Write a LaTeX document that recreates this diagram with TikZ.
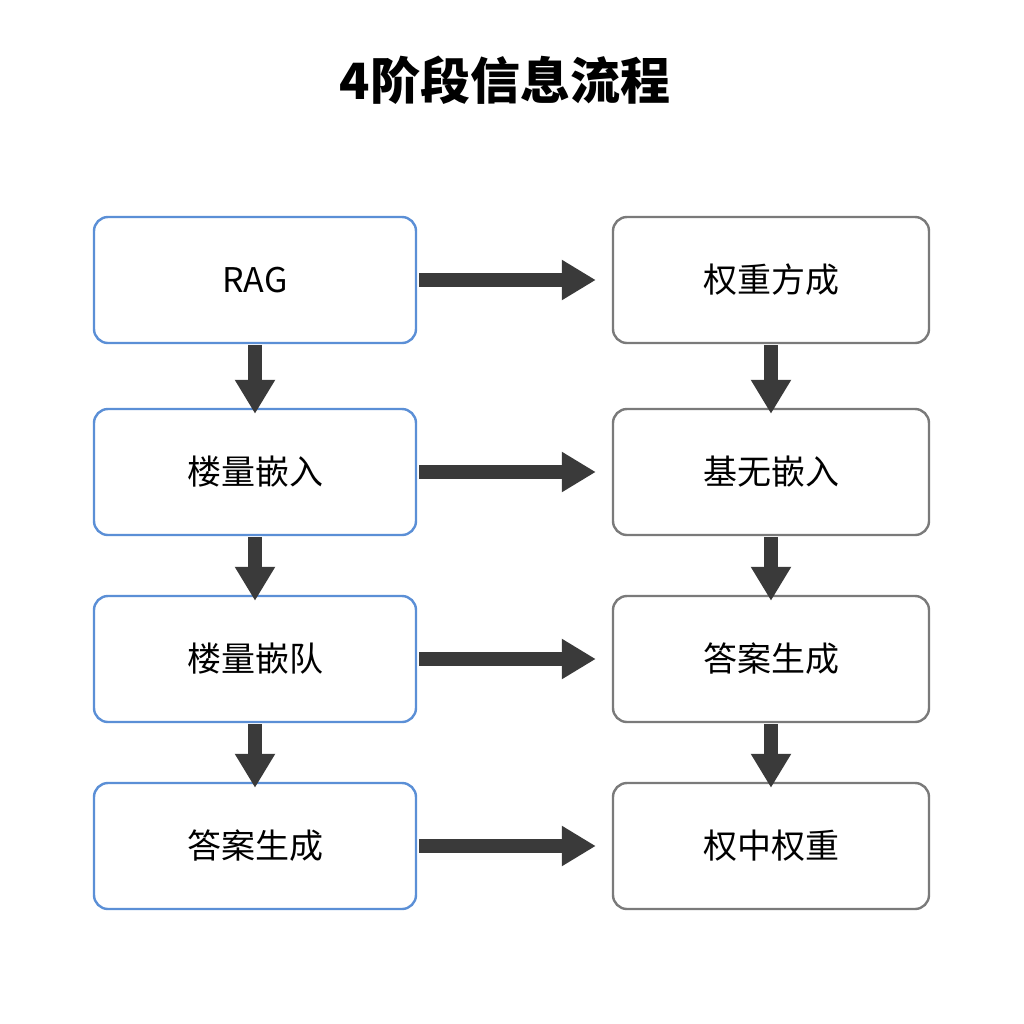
\documentclass[tikz,border=0pt]{standalone}
\usepackage{fontspec}
\setmainfont{Noto Sans CJK SC}
\usetikzlibrary{arrows.meta,positioning}
\definecolor{boxblue}{HTML}{5B8FD6}
\definecolor{boxgray}{HTML}{7A7A7A}
\definecolor{arrowdark}{HTML}{3A3A3A}
\tikzset{
  leftbox/.style={draw=boxblue,line width=1.2pt,rounded corners=7pt,fill=white,
    minimum width=161pt,minimum height=63pt,font=\fontsize{17}{20}\selectfont},
  rightbox/.style={leftbox,draw=boxgray,minimum width=158pt},
  flowarrow/.style={draw=arrowdark,line width=7pt,-{Triangle[length=17pt,width=19pt]}}
}
\begin{document}
\begin{tikzpicture}[x=0.5pt,y=-0.5pt]
  \useasboundingbox (0,0) rectangle (1024,1024);

  % title
  \node (title) at (505,80) {\fontsize{25}{30}\selectfont\bfseries 4阶段信息流程};

  % left column
  \node[leftbox] (rag) at (255,280) {RAG};
  \node[leftbox] (embedA) at (255,472) {楼量嵌入};
  \node[leftbox] (queue) at (255,659) {楼量嵌队};
  \node[leftbox] (answerA) at (255,846) {答案生成};

  % right column
  \node[rightbox] (weight) at (771,280) {权重方成};
  \node[rightbox] (embedB) at (771,472) {基无嵌入};
  \node[rightbox] (answerB) at (771,659) {答案生成};
  \node[rightbox] (mid) at (771,846) {权中权重};

  % arrows
  \foreach \a/\b in {rag/weight,embedA/embedB,queue/answerB,answerA/mid}
    \draw[flowarrow] (\a.east) ++(2,0) -- ([xshift=-8]\b.west);
  \foreach \a/\b in {rag/embedA,embedA/queue,queue/answerA,weight/embedB,embedB/answerB,answerB/mid}
    \draw[flowarrow] (\a.south) ++(0,1) -- ([yshift=-3]\b.north);
\end{tikzpicture}
\end{document}
